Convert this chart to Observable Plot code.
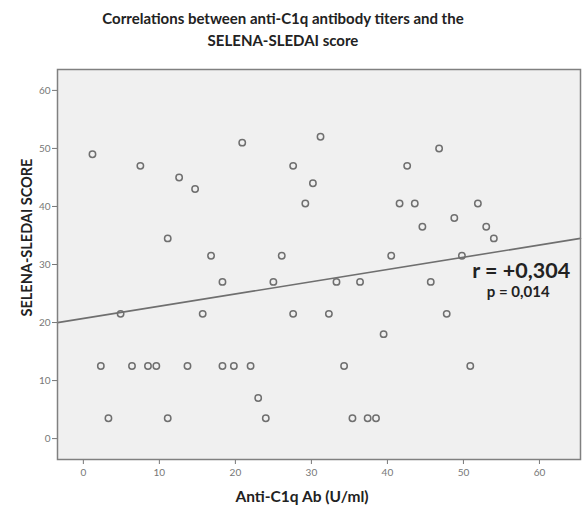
<!DOCTYPE html>
<html><head><meta charset="utf-8">
<script src="https://cdn.jsdelivr.net/npm/d3@7"></script>
<script src="https://cdn.jsdelivr.net/npm/@observablehq/plot@0.6"></script>
<style>
body{margin:0;background:#fff;}
#wrap{position:relative;width:582px;height:506px;}
#wrap svg{position:absolute;left:0;top:0;}
#title{position:absolute;left:0;top:7px;width:566px;text-align:center;font-family:Lato,sans-serif;font-weight:700;font-size:15px;line-height:22px;color:#222;z-index:2;}
</style></head><body>
<div id="wrap"><div id="title">Correlations between anti-C1q antibody titers and the<br>SELENA-SLEDAI score</div></div>
<script>
const antiC1q = [1.2,2.3,3.3,4.9,6.4,7.5,8.5,9.6,11.1,11.1,12.6,13.7,14.7,15.7,16.8,18.3,18.3,19.8,20.9,22,23,24,25,26.1,27.6,27.6,29.2,30.2,31.2,32.3,33.3,34.3,35.4,36.4,37.4,38.5,39.5,40.5,41.6,42.6,43.6,44.6,45.7,46.8,47.8,48.8,49.8,50.9,51.9,53,54];
const sledai  = [49,12.5,3.5,21.5,12.5,47,12.5,12.5,34.5,3.5,45,12.5,43,21.5,31.5,27,12.5,12.5,51,12.5,7,3.5,27,31.5,47,21.5,40.5,44,52,21.5,27,12.5,3.5,27,3.5,3.5,18,31.5,40.5,47,40.5,36.5,27,50,21.5,38,31.5,12.5,40.5,36.5,34.5];
const xTicks = [0,10,20,30,40,50,60];
const yTicks = [0,10,20,30,40,50,60];
const xDomain = [-3.4, 65.4];
const yDomain = [-3.6, 63.6];
const fitIntercept = 20.7;
const fitSlope = 0.211;
const rLabel = "r = +0,304";
const pLabel = "p = 0,014";
const xLabel = "Anti-C1q Ab (U/ml)";
const yLabel = "SELENA-SLEDAI SCORE";

const points = antiC1q.map((x, i) => ({x, y: sledai[i]}));
const fitLine = xDomain.map(x => ({x, y: fitIntercept + fitSlope * x}));
const font = "Lato, sans-serif";

const chart = Plot.plot({
  width: 582, height: 506,
  marginLeft: 57, marginRight: 2, marginTop: 69, marginBottom: 47,
  style: {fontFamily: font, background: "transparent"},
  x: {domain: xDomain, ticks: xTicks, label: null},
  y: {domain: yDomain, ticks: yTicks, label: null},
  marks: [
    Plot.frame({fill: "#f0f0f0", stroke: null}),
    Plot.axisX({ticks: xTicks, tickSize: 5, tickPadding: 4, stroke: "#777", fill: "#777", fontSize: 10, label: null}),
    Plot.axisY({ticks: yTicks, tickSize: 5, tickPadding: 2, stroke: "#777", fill: "#777", fontSize: 10, label: null}),
    Plot.line(fitLine, {x: "x", y: "y", stroke: "#6f6f6f", strokeWidth: 1.6}),
    Plot.dot(points, {x: "x", y: "y", r: 3.2, stroke: "#6f6f6f", strokeWidth: 1.5, fill: "none"}),
    Plot.frame({stroke: "#808080", strokeWidth: 1.5}),
    Plot.text([rLabel], {x: 57.6, y: 28.85, text: d => d, fontSize: 21.5, fontWeight: 700, fill: "#222", fontFamily: font}),
    Plot.text([pLabel], {x: 57.2, y: 25.2, text: d => d, fontSize: 15, fontWeight: 700, fill: "#222", fontFamily: font}),
    Plot.text([xLabel], {frameAnchor: "bottom", textAnchor: "middle", lineAnchor: "middle", dx: -17, dy: 38, text: d => d, fontSize: 15.5, fontWeight: 700, fill: "#222", fontFamily: font}),
    Plot.text([yLabel], {frameAnchor: "left", textAnchor: "middle", lineAnchor: "middle", dx: -30, dy: -27, rotate: -90, text: d => d, fontSize: 14.5, fontWeight: 700, fill: "#222", fontFamily: font})
  ]
});
document.getElementById("wrap").appendChild(chart);
</script>
</body></html>
